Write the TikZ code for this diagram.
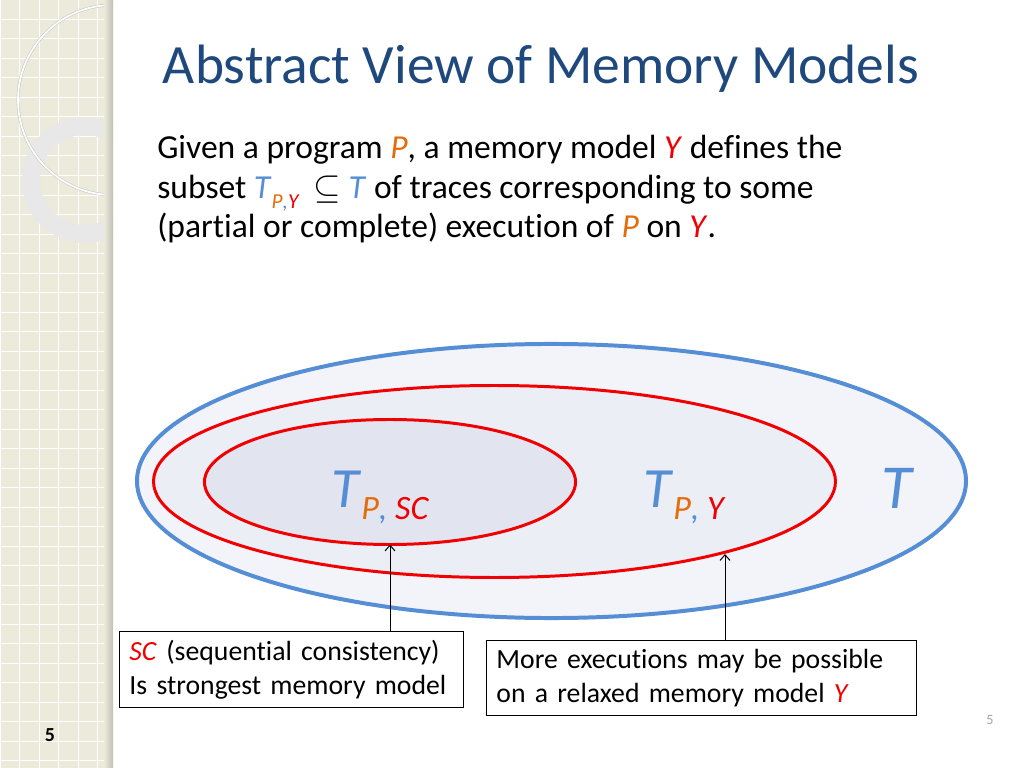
\documentclass[tikz,border=0pt]{standalone}
\usepackage{fontspec}
\setmainfont{Carlito}[Ligatures=NoCommon]
\usepackage{tikz}
\usetikzlibrary{positioning, shapes.geometric, arrows.meta}
\tikzset{>={Straight Barb[length=4pt, width=7pt]}}
\definecolor{titleblue}{RGB}{31,73,125}
\definecolor{tblue}{RGB}{85,142,213}
\definecolor{porange}{RGB}{228,108,10}
\definecolor{setred}{RGB}{240,0,0}
\definecolor{strip}{RGB}{236,234,218}
\definecolor{outerfill}{RGB}{243,244,250}
\definecolor{midfill}{RGB}{236,238,246}
\definecolor{innerfill}{RGB}{226,229,240}
% trace set label, big T with coloured subscript
\newcommand{\tracelabel}[1]{{\fontsize{40}{40}\selectfont\color{tblue}\textit{T}}\raisebox{-9pt}{\fontsize{24}{24}\selectfont\textit{\color{porange}P\color{tblue},\ \color{setred}#1}}}

\begin{document}
\begin{tikzpicture}
    [x=0.703125pt, y=-0.703125pt,
     set/.style={draw, ellipse, inner sep=0pt, outer sep=0pt},
     note/.style={draw, line width=0.7pt, fill=white, align=left, anchor=north west,
       inner xsep=7pt, inner ysep=6pt, font=\fontsize{19.5}{24}\selectfont}]

    \useasboundingbox (0,0) rectangle (1024,768);

    % left strip
    \fill[strip] (0,0) rectangle (113,768);
    \foreach \gx in {0,19.5,...,113}
      \draw[white, line width=0.7pt] (\gx,0) -- (\gx,768);
    \foreach \gy in {0,19.5,...,768}
      \draw[white, line width=0.7pt] (0,\gy) -- (113,\gy);
    \begin{scope}
      \clip (0,0) rectangle (113,768);
      \draw[gray!18, line width=12.6pt] (85,180) circle[radius=54];
      \draw[gray!45, double=white, double distance=1.2pt] (113,100) circle[radius=95];
    \end{scope}
    \shade[left color=strip, right color=strip!60!gray] (104,0) rectangle (113,768);

    \node[anchor=base, font=\fontsize{14}{14}\selectfont\bfseries] (slideno) at (50,741) {5};
    \node[anchor=base, font=\fontsize{10}{10}\selectfont, text=gray!70] (pageno) at (990,724) {5};

    % title and text
    \node[anchor=base, font=\fontsize{39}{39}\selectfont, text=titleblue] (title) at (541,84)
      {Abstract View of Memory Models};
    \node[anchor=base west, align=left, inner sep=0pt, font=\fontsize{23.6}{28}\selectfont] (intro) at (157,238) {%
      Given a program \textcolor{porange}{\textit{P}}, a memory model \textcolor{setred}{\textit{Y}} defines the\\
      subset \textcolor{tblue}{\textit{T}}\raisebox{-7pt}{\fontsize{15}{15}\selectfont\textit{\color{porange}P\color{tblue},\color{setred}Y}}\ \ $\subseteq$ \textcolor{tblue}{\textit{T}} of traces corresponding to some\\
      (partial or complete) execution of \textcolor{porange}{\textit{P}} on \textcolor{setred}{\textit{Y}}.};

    % trace sets
    \node[set, draw=tblue, line width=2.8pt, fill=outerfill,
      minimum width=582.9pt, minimum height=192.7pt] (all) at (551.5,481) {};
    \node[set, draw=setred, line width=2.1pt, fill=midfill,
      minimum width=479.5pt, minimum height=135pt] (py) at (494.5,481.5) {};
    \node[set, draw=setred, line width=2.1pt, fill=innerfill,
      minimum width=260.9pt, minimum height=87.9pt] (sc) at (390,482) {};

    \node[anchor=base west, inner sep=0pt] (tsc) at (331,507) {\tracelabel{SC}};
    \node[anchor=base west, inner sep=0pt] (tpy) at (643,507) {\tracelabel{Y}};
    \node[anchor=base west, inner sep=0pt, font=\fontsize{44}{44}\selectfont, text=tblue] (tall) at (881,508) {\textit{T}};

    % notes
    \node[note, text width=228pt] (scbox) at (119,631) {%
      \textcolor{setred}{\textit{SC}} (sequential consistency)\\
      Is strongest memory model};
    \node[note, text width=288pt] (ybox) at (486,640) {%
      More executions may be possible\\
      on a relaxed memory model \textcolor{setred}{\textit{Y}}};

    \coordinate (yhit) at (725,554);
    \draw[->, line width=0.7pt] (sc.south |- scbox.north) -- (sc.south);
    \draw[->, line width=0.7pt] (yhit |- ybox.north) -- (yhit);
\end{tikzpicture}
\end{document}
